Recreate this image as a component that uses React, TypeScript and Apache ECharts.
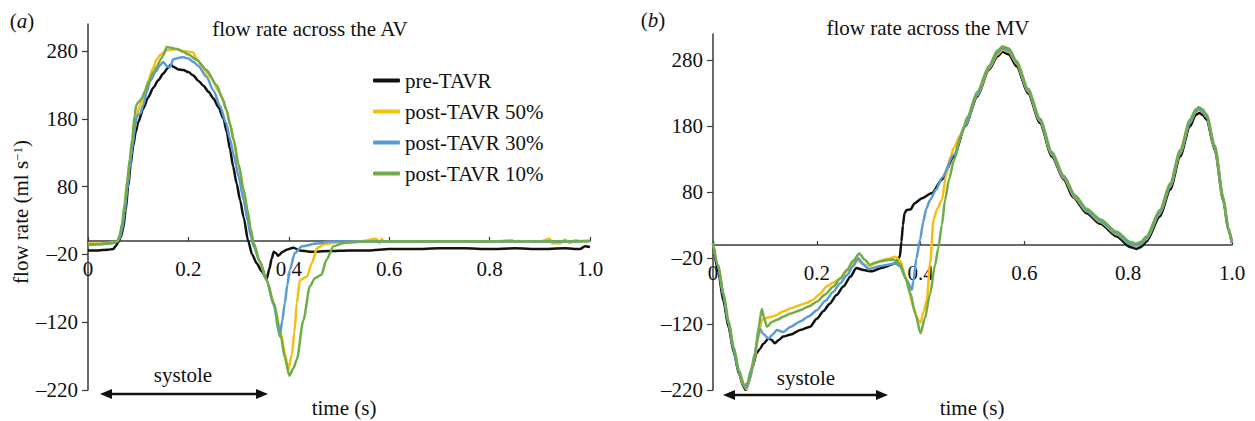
import React, { useEffect, useRef } from 'react';
import * as echarts from 'echarts';

const seriesNames = ['pre-TAVR', 'post-TAVR 50%', 'post-TAVR 30%', 'post-TAVR 10%'];
const seriesColors = ['#111111', '#F7BE12', '#5B9BD5', '#70AD47'];
const yTicks = [-220, -120, -20, 80, 180, 280];
const yMin = -220;
const yMax = 320;

// (a) flow rate across the AV : [time (s), flow (ml/s)]
const avPre = [[0,-14],[0.02,-14],[0.04,-13],[0.05,-12],[0.055,-8],[0.06,-2],[0.065,5],[0.07,18],[0.075,45],[0.08,80],[0.085,112],[0.09,140],[0.095,160],[0.1,175],[0.11,195],[0.12,212],[0.13,226],[0.14,237],[0.15,247],[0.16,256],[0.165,260],[0.17,257],[0.18,253],[0.19,252],[0.2,249],[0.21,244],[0.22,236],[0.23,229],[0.24,220],[0.25,210],[0.26,197],[0.27,180],[0.276,162],[0.283,135],[0.289,110],[0.296,85],[0.303,60],[0.31,35],[0.319,0],[0.327,-20],[0.336,-33],[0.346,-45],[0.356,-56],[0.361,-42],[0.366,-26],[0.37,-16],[0.374,-18],[0.379,-22],[0.388,-16],[0.396,-13],[0.409,-10],[0.422,-14],[0.442,-16],[0.48,-15],[0.52,-14],[0.56,-14],[0.6,-12],[0.65,-12],[0.7,-11],[0.75,-11],[0.8,-12],[0.85,-11],[0.9,-12],[0.95,-11],[0.98,-12],[0.99,-8],[1.0,-9]];
const av50 = [[0,-4],[0.02,-4],[0.04,-3],[0.05,-2],[0.058,-1],[0.063,5],[0.068,22],[0.073,50],[0.078,82],[0.083,112],[0.088,140],[0.093,165],[0.098,188],[0.104,200],[0.11,212],[0.12,236],[0.13,256],[0.137,268],[0.145,275],[0.155,281],[0.165,282],[0.177,283],[0.19,280],[0.2,279],[0.21,278],[0.215,270],[0.225,260],[0.243,242],[0.263,218],[0.276,193],[0.283,172],[0.29,148],[0.3,110],[0.31,74],[0.318,42],[0.324,15],[0.33,-5],[0.342,-30],[0.356,-58],[0.37,-92],[0.384,-135],[0.392,-165],[0.399,-190],[0.406,-168],[0.411,-135],[0.416,-92],[0.422,-58],[0.436,-53],[0.446,-33],[0.456,-11],[0.47,-5],[0.5,-2],[0.54,-1],[0.575,3],[0.58,-3],[0.585,3],[0.59,-1],[0.65,-1],[0.7,-1],[0.75,-1],[0.8,-1],[0.845,1],[0.85,-2],[0.855,0],[0.9,-1],[0.92,3],[0.925,-4],[0.93,-3],[0.94,-4],[0.95,2],[0.96,-3],[0.97,1],[0.98,0],[1.0,0]];
const av30 = [[0,-5],[0.02,-5],[0.04,-4],[0.05,-3],[0.058,-1],[0.063,4],[0.068,18],[0.073,42],[0.078,75],[0.083,108],[0.088,138],[0.093,165],[0.097,184],[0.104,188],[0.11,200],[0.117,220],[0.124,236],[0.135,250],[0.143,259],[0.15,264],[0.157,258],[0.163,256],[0.17,268],[0.18,270],[0.19,271],[0.2,269],[0.21,264],[0.22,258],[0.236,242],[0.25,222],[0.263,199],[0.275,174],[0.283,150],[0.29,127],[0.3,95],[0.31,60],[0.318,30],[0.324,8],[0.33,-8],[0.342,-30],[0.356,-58],[0.37,-95],[0.382,-141],[0.387,-118],[0.392,-92],[0.397,-65],[0.402,-43],[0.412,-18],[0.426,-8],[0.456,-4],[0.482,-1],[0.55,-1],[0.65,-1],[0.75,-1],[0.85,-1],[0.95,-1],[1.0,0]];
const av10 = [[0,-6],[0.02,-5],[0.04,-4],[0.05,-3],[0.058,-1],[0.063,8],[0.068,26],[0.073,55],[0.078,88],[0.083,120],[0.088,150],[0.093,185],[0.096,200],[0.1,204],[0.107,210],[0.113,220],[0.12,233],[0.13,248],[0.137,257],[0.145,268],[0.15,274],[0.157,286],[0.165,285],[0.177,283],[0.19,279],[0.2,275],[0.217,267],[0.236,252],[0.256,230],[0.268,210],[0.276,193],[0.283,172],[0.29,150],[0.3,113],[0.31,76],[0.318,45],[0.324,18],[0.33,-3],[0.342,-30],[0.356,-58],[0.37,-92],[0.384,-140],[0.392,-172],[0.401,-199],[0.409,-188],[0.416,-175],[0.429,-117],[0.442,-67],[0.452,-55],[0.465,-50],[0.475,-28],[0.489,-8],[0.509,-3],[0.55,-1],[0.65,-1],[0.75,-1],[0.85,-1],[0.95,-1],[1.0,0]];

// (b) flow rate across the MV
const mvPre = [[0,2],[0.01,-40],[0.02,-85],[0.03,-125],[0.04,-163],[0.05,-195],[0.058,-214],[0.063,-220],[0.068,-210],[0.075,-188],[0.084,-164],[0.09,-158],[0.097,-150],[0.107,-142],[0.113,-144],[0.119,-149],[0.127,-144],[0.135,-139],[0.15,-136],[0.168,-129],[0.187,-124],[0.2,-112],[0.213,-100],[0.225,-89],[0.238,-76],[0.251,-63],[0.265,-48],[0.276,-35],[0.29,-38],[0.305,-40],[0.328,-34],[0.351,-28],[0.36,-18],[0.363,5],[0.366,30],[0.369,48],[0.373,53],[0.381,54],[0.388,63],[0.403,71],[0.422,79],[0.441,99],[0.464,134],[0.486,180],[0.509,225],[0.532,266],[0.548,286],[0.558,293],[0.57,289],[0.585,271],[0.607,230],[0.63,185],[0.653,134],[0.676,99],[0.694,72],[0.72,48],[0.746,32],[0.778,13],[0.803,-3],[0.816,-6],[0.825,-3],[0.835,5],[0.861,43],[0.881,84],[0.9,134],[0.919,180],[0.93,197],[0.937,200],[0.944,197],[0.951,190],[0.967,144],[0.983,68],[0.993,23],[1.0,3]];
const mv50 = [[0,3],[0.01,-32],[0.02,-75],[0.03,-118],[0.04,-158],[0.05,-192],[0.058,-212],[0.065,-219],[0.072,-202],[0.08,-172],[0.088,-138],[0.094,-114],[0.1,-111],[0.113,-109],[0.12,-107],[0.135,-101],[0.15,-96],[0.168,-91],[0.18,-88],[0.193,-83],[0.205,-75],[0.219,-63],[0.232,-57],[0.245,-51],[0.26,-38],[0.276,-23],[0.288,-28],[0.3,-33],[0.312,-28],[0.322,-24],[0.337,-21],[0.351,-18],[0.36,-23],[0.373,-53],[0.386,-94],[0.394,-112],[0.4,-118],[0.406,-100],[0.412,-84],[0.418,-30],[0.425,38],[0.432,55],[0.441,68],[0.449,105],[0.456,130],[0.464,147],[0.475,165],[0.486,182],[0.509,227],[0.532,268],[0.548,289],[0.558,296],[0.57,293],[0.585,275],[0.607,233],[0.63,188],[0.653,137],[0.676,101],[0.698,71],[0.72,51],[0.746,35],[0.778,16],[0.803,2],[0.815,-1],[0.825,2],[0.835,9],[0.861,48],[0.881,89],[0.9,139],[0.919,185],[0.93,202],[0.936,205],[0.943,202],[0.951,194],[0.967,147],[0.983,70],[0.993,24],[1.0,3]];
const mv30 = [[0,3],[0.01,-33],[0.02,-77],[0.03,-120],[0.04,-160],[0.05,-193],[0.06,-214],[0.064,-217],[0.07,-205],[0.078,-180],[0.085,-145],[0.09,-127],[0.097,-135],[0.107,-142],[0.115,-136],[0.123,-129],[0.135,-132],[0.15,-124],[0.168,-116],[0.185,-108],[0.2,-99],[0.216,-85],[0.232,-71],[0.245,-58],[0.258,-46],[0.27,-32],[0.28,-20],[0.29,-30],[0.3,-37],[0.312,-34],[0.322,-32],[0.337,-30],[0.351,-28],[0.36,-32],[0.373,-53],[0.383,-68],[0.386,-55],[0.392,-20],[0.399,8],[0.405,35],[0.411,55],[0.418,68],[0.43,84],[0.441,102],[0.464,137],[0.486,182],[0.509,228],[0.532,270],[0.548,291],[0.558,298],[0.57,295],[0.585,276],[0.607,234],[0.63,189],[0.653,138],[0.676,102],[0.698,72],[0.72,52],[0.746,36],[0.778,17],[0.803,2],[0.815,-1],[0.825,2],[0.835,10],[0.861,49],[0.881,90],[0.9,140],[0.919,186],[0.93,203],[0.936,206],[0.943,203],[0.951,195],[0.967,148],[0.983,70],[0.993,24],[1.0,3]];
const mv10 = [[0,3],[0.01,-30],[0.02,-72],[0.03,-115],[0.04,-155],[0.05,-190],[0.06,-213],[0.066,-210],[0.073,-190],[0.081,-164],[0.088,-125],[0.094,-97],[0.099,-112],[0.104,-124],[0.113,-117],[0.125,-113],[0.135,-109],[0.15,-104],[0.168,-99],[0.185,-93],[0.2,-86],[0.216,-75],[0.232,-63],[0.245,-51],[0.258,-38],[0.27,-24],[0.282,-13],[0.292,-22],[0.302,-30],[0.312,-27],[0.322,-25],[0.335,-23],[0.347,-22],[0.36,-28],[0.37,-48],[0.38,-73],[0.39,-105],[0.4,-134],[0.408,-112],[0.418,-75],[0.428,-30],[0.434,-5],[0.441,30],[0.447,68],[0.455,100],[0.464,128],[0.479,168],[0.49,194],[0.509,232],[0.532,272],[0.548,295],[0.558,301],[0.57,298],[0.585,279],[0.607,237],[0.63,192],[0.653,141],[0.676,105],[0.698,75],[0.72,55],[0.746,39],[0.778,20],[0.803,5],[0.815,2],[0.825,5],[0.835,13],[0.861,53],[0.881,94],[0.9,144],[0.919,190],[0.93,206],[0.936,209],[0.943,206],[0.951,198],[0.967,151],[0.983,73],[0.993,26],[1.0,4]];

const avSeries = [avPre, av50, av30, av10];
const mvSeries = [mvPre, mv50, mv30, mv10];

const FONT = 'Liberation Serif, serif';
const INK = '#111111';
const AXIS = '#3a3a3a';

const grids = [
  { left: 88, top: 24, width: 502, height: 366 },
  { left: 713, top: 34, width: 519, height: 356 },
];

function xAxisFor(gridIndex: number) {
  // place the time axis on the zero flow line
  const zeroOffset = -grids[gridIndex].height * (0 - yMin) / (yMax - yMin);
  return {
    type: 'value', gridIndex, min: 0, max: 1, interval: 0.2, position: 'bottom',
    offset: zeroOffset,
    axisLine: { onZero: false, lineStyle: { color: AXIS, width: 1.5 } },
    axisTick: { inside: true, length: 4, lineStyle: { color: AXIS, width: 1.2 } },
    axisLabel: {
      margin: 18, fontFamily: FONT, fontSize: 21, color: INK, hideOverlap: false,
      formatter: (v: number) => (v === 0 ? '0' : v.toFixed(1)),
    },
    splitLine: { show: false },
  };
}

function yAxisFor(gridIndex: number) {
  return {
    type: 'value', gridIndex, min: yMin, max: yMax, interval: 100,
    axisLine: { show: true, onZero: false, lineStyle: { color: AXIS, width: 1.5 } },
    axisTick: { show: true, length: 6, customValues: yTicks, lineStyle: { color: AXIS, width: 1.2 } },
    axisLabel: {
      margin: 10, fontFamily: FONT, fontSize: 21, color: INK, customValues: yTicks, hideOverlap: false,
      verticalAlign: 'middle',
      formatter: (v: number) => String(v).replace('-', '\u2013'),
    },
    splitLine: { show: false },
  };
}

function arrow(x1: number, x2: number, y: number) {
  const hl = 12, hw = 5;
  return [
    { type: 'line', shape: { x1: x1 + 6, y1: y, x2: x2 - 6, y2: y }, style: { stroke: INK, lineWidth: 2.6 } },
    { type: 'polygon', shape: { points: [[x1, y], [x1 + hl, y - hw], [x1 + hl, y + hw]] }, style: { fill: INK } },
    { type: 'polygon', shape: { points: [[x2, y], [x2 - hl, y - hw], [x2 - hl, y + hw]] }, style: { fill: INK } },
  ];
}

function txt(text: string, x: number, y: number, extra: any = {}) {
  return {
    type: 'text', x, y, ...extra,
    style: {
      text, fill: INK, fontFamily: FONT, fontSize: 21, align: 'center', verticalAlign: 'middle',
      ...(extra.style || {}),
    },
  };
}

export default function App() {
  const ref = useRef<HTMLDivElement>(null);
  useEffect(() => {
    if (!ref.current) return;
    const chart = echarts.init(ref.current, undefined, { renderer: 'svg' });
    const series: any[] = [];
    [avSeries, mvSeries].forEach((group, gi) => {
      group.forEach((data, i) => {
        series.push({
          type: 'line', name: seriesNames[i], xAxisIndex: gi, yAxisIndex: gi,
          data, showSymbol: false, symbol: 'none', color: seriesColors[i],
          smooth: 0.25, smoothMonotone: 'x',
          lineStyle: { width: 2.5, color: seriesColors[i] },
          z: 2 + i,
        });
      });
    });
    const richLabel = {
      i: { fontStyle: 'italic', fontFamily: FONT, fontSize: 21, fill: INK },
    };
    chart.setOption({
      animation: false,
      backgroundColor: '#ffffff',
      grid: grids.map((g) => ({ ...g, containLabel: false, outerBoundsMode: 'none' })),
      xAxis: [xAxisFor(0), xAxisFor(1)],
      yAxis: [yAxisFor(0), yAxisFor(1)],
      legend: {
        data: seriesNames, orient: 'vertical', left: 373, top: 70, padding: 0,
        itemWidth: 27, itemHeight: 4, itemGap: 10, icon: 'roundRect',
        textStyle: { fontFamily: FONT, fontSize: 21, color: INK },
      },
      graphic: [
        txt('({i|a})', 22, 21, { style: { rich: richLabel } }),
        txt('({i|b})', 653, 20, { style: { rich: richLabel } }),
        txt('flow rate across the AV', 310, 29),
        txt('flow rate across the MV', 928, 28),
        {
          type: 'text', x: 21, y: 212, rotation: Math.PI / 2,
          style: {
            text: '{n|flow rate (ml s}{s|\u22121}{n|)}',
            rich: {
              n: { fontFamily: FONT, fontSize: 21, fill: INK },
              s: { fontFamily: FONT, fontSize: 13, fill: INK, verticalAlign: 'top' },
            },
            align: 'center', verticalAlign: 'middle', fill: INK,
          },
        },
        txt('systole', 183, 375),
        txt('systole', 806, 378),
        ...arrow(100, 268, 394),
        ...arrow(723, 888, 395),
        txt('time (s)', 344, 408),
        txt('time (s)', 972, 408),
      ],
      series,
    });
    return () => chart.dispose();
  }, []);
  return (
    <div
      ref={ref}
      style={{ position: 'absolute', left: 0, top: 0, width: 1255, height: 421, background: '#fff' }}
    />
  );
}
